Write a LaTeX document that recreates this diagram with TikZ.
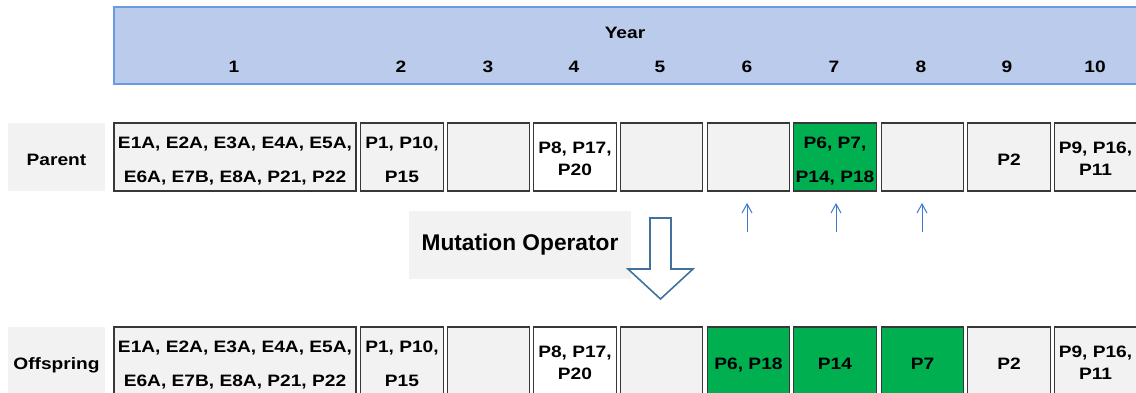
\documentclass[tikz,border=0pt]{standalone}
\usepackage{fontspec}
\setmainfont{Liberation Sans}[FakeStretch=1.16]
\newfontfamily\opfont{Liberation Sans}
\usetikzlibrary{arrows.meta}
\definecolor{hdrfill}{HTML}{BBCBEB}
\definecolor{hdrline}{HTML}{6A9AE0}
\definecolor{cellgray}{HTML}{F2F2F2}
\definecolor{cellline}{HTML}{383838}
\definecolor{mutgreen}{HTML}{00B050}
\definecolor{arrowblue}{HTML}{41719C}
\definecolor{pointblue}{HTML}{3F78CC}
\tikzset{
  % two-line cells: the text box sits on its last line, so its height places both lines
  cell/.style={draw=cellline, line width=1.3pt, fill=cellgray, minimum height=68pt,
    minimum width=82.5pt, inner sep=0pt, align=center, text height=51.8pt, text depth=0pt,
    font=\bfseries\fontsize{16.5}{34}\selectfont},
  tight/.style={text height=37.8pt, font=\bfseries\fontsize{16.5}{22}\selectfont},
  oneline/.style={text height=17pt},
  plain/.style={fill=white},
  mutated/.style={fill=mutgreen},
  wide/.style={minimum width=242pt},
  rowlabel/.style={fill=cellgray, minimum width=97pt, minimum height=68pt,
    inner sep=0pt, text height=17pt, text depth=0pt,
    font=\bfseries\fontsize{16.5}{20}\selectfont},
  hdrtext/.style={font=\bfseries\fontsize{16.5}{20}\selectfont, inner sep=0pt},
  pointer/.style={draw=pointblue, line width=1pt, -{Straight Barb[length=9pt,width=10pt]}}
}
\begin{document}
\begin{tikzpicture}[x=1pt, y=-1pt]
\useasboundingbox (0,0) rectangle (1136,393);

% year header band
\draw[fill=hdrfill, draw=hdrline, line width=1.4pt] (114,7) rectangle (1145,84);
\node[hdrtext] (year) at (625,33) {Year};
\foreach \n/\x in {1/234, 2/401, 3/488, 4/574, 5/660, 6/747, 7/834, 8/921, 9/1007, 10/1095}
  \node[hdrtext] (y\n) at (\x,67) {\n};

% parent chromosome
\node[rowlabel] (plabel) at (56.5,157) {Parent};
\node[cell, wide] (p1) at (235,157) {E1A, E2A, E3A, E4A, E5A,\\E6A, E7B, E8A, P21, P22};
\node[cell] (p2) at (402,157) {P1, P10,\\P15};
\node[cell] (p3) at (488.5,157) {};
\node[cell, plain, tight] (p4) at (575,157) {P8, P17,\\P20};
\node[cell] (p5) at (661.5,157) {};
\node[cell] (p6) at (748.5,157) {};
\node[cell, mutated] (p7) at (835,157) {P6, P7,\\P14, P18};
\node[cell] (p8) at (922.5,157) {};
\node[cell, oneline] (p9) at (1009,157) {P2};
\node[cell, tight] (p10) at (1095.5,157) {P9, P16,\\P11};

% pointers to the mutated genes
\foreach \i/\x in {6/747, 7/836, 8/922} {
  \coordinate (s\i) at (\x,232);
  \coordinate (t\i) at (\x,203);
  \draw[pointer] (s\i) -- (t\i);
}

% operator label and hollow arrow
\node[fill=cellgray, minimum width=222pt, minimum height=68pt, inner sep=0pt,
  font=\opfont\bfseries\fontsize{22.7}{26}\selectfont] (mut) at (520,245) {Mutation Operator};
\draw[draw=arrowblue, fill=white, line width=1.6pt, line join=miter]
  (650,218) -- (671,218) -- (671,269) -- (693,269) -- (660.5,299) -- (628,269) -- (650,269) -- cycle;

% offspring chromosome
\node[rowlabel] (olabel) at (56.5,361) {Offspring};
\node[cell, wide] (o1) at (235,361) {E1A, E2A, E3A, E4A, E5A,\\E6A, E7B, E8A, P21, P22};
\node[cell] (o2) at (402,361) {P1, P10,\\P15};
\node[cell] (o3) at (488.5,361) {};
\node[cell, plain, tight] (o4) at (575,361) {P8, P17,\\P20};
\node[cell] (o5) at (661.5,361) {};
\node[cell, mutated, oneline] (o6) at (748.5,361) {P6, P18};
\node[cell, mutated, oneline] (o7) at (835,361) {P14};
\node[cell, mutated, oneline] (o8) at (922.5,361) {P7};
\node[cell, oneline] (o9) at (1009,361) {P2};
\node[cell, tight] (o10) at (1095.5,361) {P9, P16,\\P11};
\end{tikzpicture}
\end{document}
